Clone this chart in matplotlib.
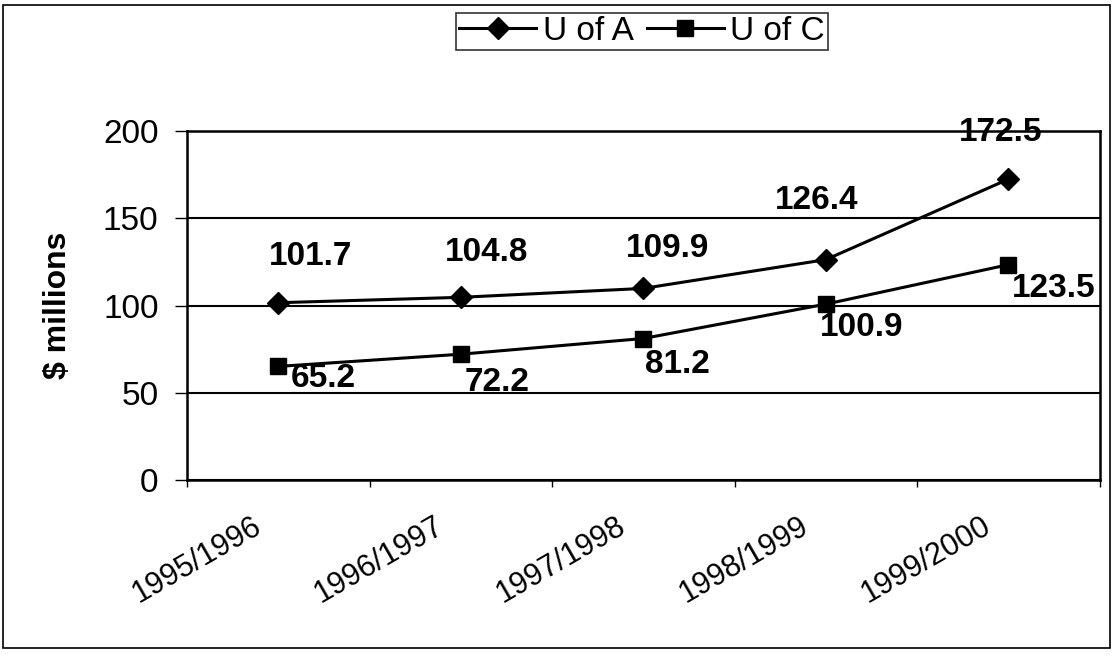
import matplotlib.pyplot as plt
import matplotlib.transforms as mtransforms
from matplotlib.patches import Rectangle

years = ['1995/1996', '1996/1997', '1997/1998', '1998/1999', '1999/2000']
u_of_a = [101.7, 104.8, 109.9, 126.4, 172.5]
u_of_c = [65.2, 72.2, 81.2, 100.9, 123.5]

plt.rcParams['font.family'] = ['Liberation Sans', 'DejaVu Sans']

fig = plt.figure(figsize=(11.13, 6.56), dpi=100)
ax = fig.add_axes([0.168, 0.268, 0.82, 0.532])

x = list(range(len(years)))
ax.plot(x, u_of_a, color='black', lw=2.2, marker='D', markersize=11, label='U of A')
ax.plot(x, u_of_c, color='black', lw=2.2, marker='s', markersize=12, label='U of C')

# label offsets in pixels (scan placement isn't uniform)
a_off = [(32, 46), (26, 45), (24, 40), (-9, 59), (-8, 47)]
c_off = [(45, -12), (36, -28), (34, -26), (36, -23), (45, -24)]
for i, v in enumerate(u_of_a):
    ax.annotate(f'{v}', (i, v), xytext=(a_off[i][0] * 0.72, a_off[i][1] * 0.72),
                textcoords='offset points', ha='center', va='center',
                fontsize=24, fontweight='bold')
for i, v in enumerate(u_of_c):
    ax.annotate(f'{v}', (i, v), xytext=(c_off[i][0] * 0.72, c_off[i][1] * 0.72),
                textcoords='offset points', ha='center', va='center',
                fontsize=24, fontweight='bold')

ax.set_xlim(-0.5, 4.5)
ax.set_ylim(0, 200)
ax.set_yticks([0, 50, 100, 150, 200])
ax.yaxis.grid(True, color='black', lw=1.5)
ax.set_axisbelow(True)
for s in ax.spines.values():
    s.set_linewidth(1.8)
    s.set_color('black')

ax.set_xticks([i - 0.5 for i in range(len(years) + 1)])
ax.set_xticklabels([])
ax.set_xticks(x, minor=True)
ax.set_xticklabels(years, minor=True, rotation=30, ha='right', va='top',
                   rotation_mode='anchor', fontsize=22)
ax.tick_params(axis='x', which='minor', length=0, pad=22)
ax.tick_params(axis='x', which='major', length=5, width=1, direction='out')
ax.tick_params(axis='y', length=8.5, width=1, labelsize=24, pad=12)
shift = mtransforms.ScaledTranslation(-0.27, 0, fig.dpi_scale_trans)
for lbl in ax.get_xticklabels(minor=True):
    lbl.set_transform(lbl.get_transform() + shift)

ax.set_ylabel('$ millions', fontsize=23, fontweight='bold')
ax.yaxis.set_label_coords(-0.125, 0.5)

leg = fig.legend(loc='center', bbox_to_anchor=(0.577, 0.952), ncol=2, fontsize=24,
                 frameon=True, fancybox=False, edgecolor='black', handlelength=2.3,
                 handletextpad=0.2, columnspacing=0.4, borderpad=0.1)
leg.get_frame().set_linewidth(1.2)

fig.patches.append(Rectangle((0.003, 0.012), 0.994, 0.98, transform=fig.transFigure,
                             fill=False, edgecolor='black', lw=1.2))

fig.savefig('out.png', dpi=100)
